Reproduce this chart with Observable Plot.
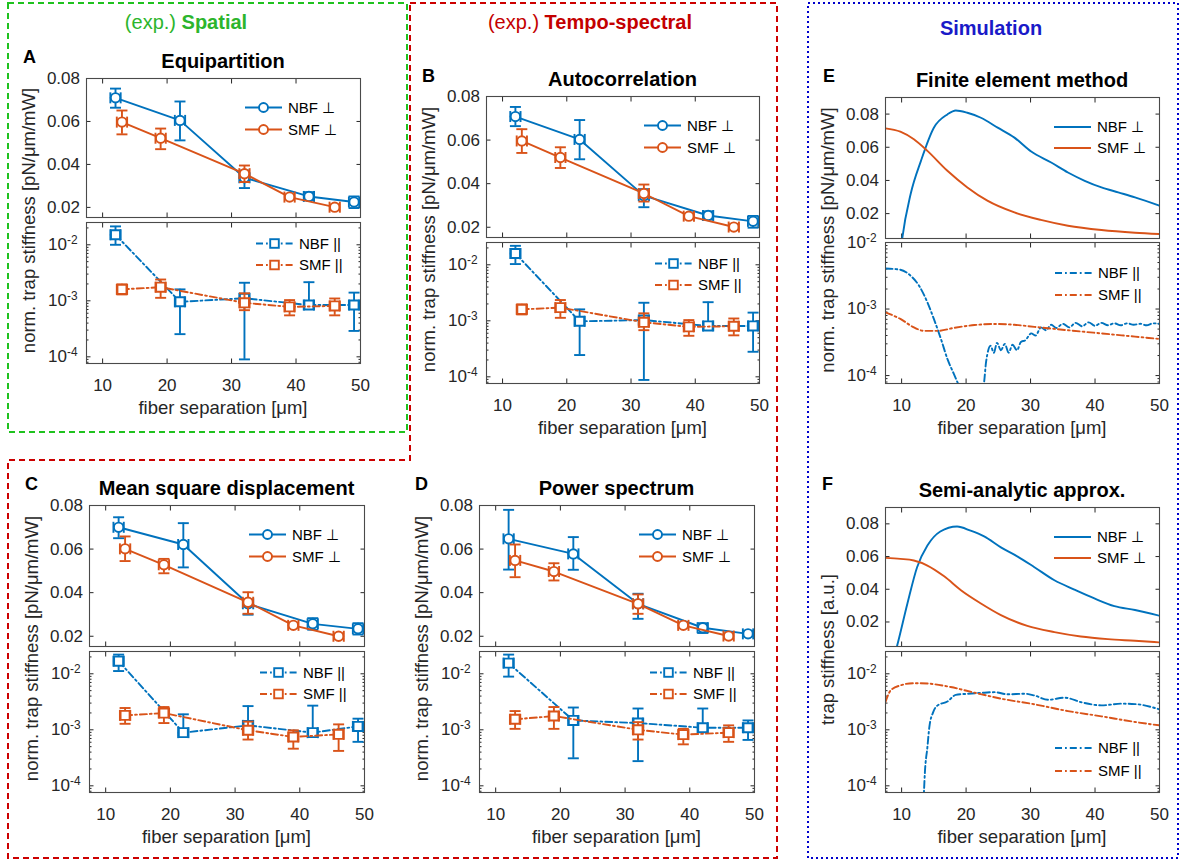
<!DOCTYPE html>
<html><head><meta charset="utf-8">
<script src="https://cdn.jsdelivr.net/npm/d3@7"></script>
<script src="https://cdn.jsdelivr.net/npm/@observablehq/plot@0.6"></script>
<style>
body{margin:0;background:#fff;}
#root{position:relative;width:1184px;height:862px;overflow:hidden;background:#fff;font-family:"Liberation Sans",Arial,Helvetica,sans-serif;}
#overlay{position:absolute;left:0;top:0;pointer-events:none;}
</style></head><body><div id="root"></div>
<script>
// ================= DATA =================
// experimental fiber separations (μm)
const X_NBF = [12, 22, 32, 42, 49];
const X_SMF = [13, 19, 32, 39, 46];
const X_ERR = 0.8;

// A – Equipartition
const A_nbfPerp   = [0.0710, 0.0605, 0.0338, 0.0251, 0.0225];
const A_nbfPerpLo = [0.0664, 0.0512, 0.0290, 0.0233, 0.0197];
const A_nbfPerpHi = [0.0753, 0.0693, 0.0372, 0.0271, 0.0251];
const A_smfPerp   = [0.0597, 0.0522, 0.0357, 0.0248, 0.0201];
const A_smfPerpLo = [0.0540, 0.0471, 0.0318, 0.0239, 0.0189];
const A_smfPerpHi = [0.0651, 0.0567, 0.0395, 0.0258, 0.0213];
const A_nbfPar    = [0.0151, 9.6e-4, 1.11e-3, 8.4e-4, 8.4e-4];
const A_nbfParLo  = [0.0100, 2.54e-4, 9.0e-5, 7.2e-4, 2.9e-4];
const A_nbfParHi  = [0.0213, 1.6e-3, 2.1e-3, 2.15e-3, 1.4e-3];
const A_smfPar    = [1.6e-3, 1.75e-3, 9.2e-4, 7.8e-4, 8.1e-4];
const A_smfParLo  = [1.3e-3, 1.13e-3, 6.8e-4, 5.5e-4, 5.5e-4];
const A_smfParHi  = [1.97e-3, 2.4e-3, 1.36e-3, 1.03e-3, 1.1e-3];

// B – Autocorrelation
const B_nbfPerp   = [0.0708, 0.0603, 0.0345, 0.0254, 0.0227];
const B_nbfPerpLo = [0.0664, 0.0512, 0.0292, 0.0235, 0.0198];
const B_nbfPerpHi = [0.0752, 0.0692, 0.0375, 0.0273, 0.0252];
const B_smfPerp   = [0.0596, 0.0520, 0.0355, 0.0251, 0.0201];
const B_smfPerpLo = [0.0541, 0.0472, 0.0318, 0.0241, 0.0189];
const B_smfPerpHi = [0.0650, 0.0567, 0.0396, 0.0260, 0.0213];
const B_nbfPar    = [0.0159, 9.8e-4, 1.03e-3, 8.1e-4, 8.1e-4];
const B_nbfParLo  = [0.0103, 2.45e-4, 8.8e-5, 7.0e-4, 2.8e-4];
const B_nbfParHi  = [0.0218, 1.6e-3, 2.1e-3, 2.15e-3, 1.4e-3];
const B_smfPar    = [1.6e-3, 1.72e-3, 9.4e-4, 7.8e-4, 8.0e-4];
const B_smfParLo  = [1.3e-3, 1.13e-3, 6.8e-4, 5.4e-4, 5.5e-4];
const B_smfParHi  = [1.97e-3, 2.35e-3, 1.36e-3, 1.03e-3, 1.1e-3];

// C – Mean square displacement
const C_nbfPerp   = [0.0700, 0.0621, 0.0349, 0.0257, 0.0234];
const C_nbfPerpLo = [0.0650, 0.0516, 0.0299, 0.0230, 0.0208];
const C_nbfPerpHi = [0.0746, 0.0719, 0.0364, 0.0283, 0.0260];
const C_smfPerp   = [0.0601, 0.0528, 0.0356, 0.0250, 0.0200];
const C_smfPerpLo = [0.0545, 0.0489, 0.0303, 0.0240, 0.0188];
const C_smfPerpHi = [0.0658, 0.0555, 0.0402, 0.0260, 0.0212];
const C_nbfPar    = [0.0168, 8.9e-4, 1.2e-3, 8.9e-4, 1.15e-3];
const C_nbfParLo  = [0.0112, 8.0e-4, 1.0e-3, 8.0e-4, 6.1e-4];
const C_nbfParHi  = [0.0220, 1.89e-3, 2.65e-3, 2.7e-3, 1.58e-3];
const C_smfPar    = [1.81e-3, 1.99e-3, 9.8e-4, 7.45e-4, 8.3e-4];
const C_smfParLo  = [1.28e-3, 1.32e-3, 6.7e-4, 4.6e-4, 4.2e-4];
const C_smfParHi  = [2.45e-3, 2.55e-3, 1.4e-3, 9.8e-4, 1.25e-3];

// D – Power spectrum
const D_nbfPerp   = [0.0647, 0.0578, 0.0349, 0.0239, 0.0211];
const D_nbfPerpLo = [0.0506, 0.0505, 0.0280, 0.0215, 0.0200];
const D_nbfPerpHi = [0.0780, 0.0655, 0.0395, 0.0260, 0.0224];
const D_smfPerp   = [0.0548, 0.0497, 0.0349, 0.0250, 0.0201];
const D_smfPerpLo = [0.0471, 0.0456, 0.0303, 0.0240, 0.0189];
const D_smfPerpHi = [0.0621, 0.0535, 0.0392, 0.0260, 0.0213];
const D_nbfPar    = [0.0155, 1.47e-3, 1.32e-3, 1.09e-3, 1.09e-3];
const D_nbfParLo  = [0.0089, 3.1e-4, 2.76e-4, 1.0e-3, 6.6e-4];
const D_nbfParHi  = [0.0220, 2.5e-3, 2.4e-3, 2.4e-3, 1.47e-3];
const D_smfPar    = [1.54e-3, 1.76e-3, 1.0e-3, 8.2e-4, 8.9e-4];
const D_smfParLo  = [1.04e-3, 1.04e-3, 6.7e-4, 5.5e-4, 6.1e-4];
const D_smfParHi  = [2.16e-3, 2.55e-3, 1.37e-3, 1.04e-3, 1.2e-3];

// E – Finite element method
const E_nbfPerpX = [10.0, 10.1, 11.4, 13.0, 15.0, 17.1, 18.4, 20.2, 22.3, 24.9, 27.5, 30.1, 33.2, 35.8, 38.4, 41.0, 43.6, 46.2, 50];
const E_nbfPerpY = [0.002, 0.0051, 0.0318, 0.0518, 0.0718, 0.0798, 0.0822, 0.0808, 0.0778, 0.0718, 0.0658, 0.0574, 0.0508, 0.0448, 0.0398, 0.0358, 0.0328, 0.0298, 0.0248];
const E_smfPerpX = [7.5, 9.8, 11.9, 14.0, 17.1, 20.2, 23.3, 27.5, 31.6, 35.8, 41.0, 46.2, 50];
const E_smfPerpY = [0.0714, 0.0694, 0.0648, 0.0578, 0.0458, 0.0358, 0.0278, 0.0207, 0.0162, 0.0127, 0.0101, 0.0085, 0.0077];
const E_nbfParX = [7.5, 9.8, 11.4, 12.7, 14.0, 15.0, 16.1, 17.1, 18.1, 18.9, 19.5, 22.5, 22.8, 23.1, 23.8, 24.3, 24.8, 25.4, 26.0, 26.6, 27.2, 27.9, 28.5, 29.2, 30.1, 30.8, 31.6, 32.4, 33.2, 34.0, 35.0, 36.0, 37.0, 38.0, 39.0, 40.0, 41.0, 42.0, 43.0, 44.0, 45.0, 46.0, 47.0, 48.0, 49.0, 50.0];
const E_nbfParY = [4.07e-3, 3.9e-3, 3.16e-3, 2.24e-3, 1.26e-3, 7.1e-4, 3.55e-4, 1.78e-4, 1.06e-4, 7e-5, 5e-5, 5e-5, 8e-5, 1.6e-4, 2.8e-4, 2.2e-4, 3.1e-4, 2.4e-4, 3.0e-4, 2.2e-4, 2.9e-4, 2.4e-4, 3.2e-4, 3.4e-4, 4.3e-4, 4.0e-4, 5.3e-4, 4.8e-4, 5.8e-4, 5.2e-4, 6.0e-4, 5.3e-4, 6.2e-4, 5.5e-4, 6.3e-4, 5.6e-4, 6.2e-4, 5.7e-4, 6.1e-4, 5.7e-4, 6.1e-4, 5.8e-4, 6.0e-4, 5.7e-4, 6.1e-4, 6.0e-4];
const E_smfParX = [7.5, 9.8, 11.9, 13.5, 15.6, 18.1, 21.3, 24.4, 27.5, 30.6, 35.8, 41.0, 46.2, 50];
const E_smfParY = [8.9e-4, 7.1e-4, 5.3e-4, 4.7e-4, 4.7e-4, 5.2e-4, 5.75e-4, 5.96e-4, 5.8e-4, 5.4e-4, 4.8e-4, 4.3e-4, 3.85e-4, 3.55e-4];

// F – Semi-analytic approximation
const F_nbfPerpX = [9.0, 9.3, 10.9, 12.4, 14.0, 16.0, 18.6, 20.7, 22.8, 25.4, 28.0, 30.6, 33.7, 36.8, 39.9, 43.0, 46.2, 50];
const F_nbfPerpY = [0.001, 0.0054, 0.0313, 0.0535, 0.0667, 0.0753, 0.0784, 0.0758, 0.0723, 0.0656, 0.0600, 0.0535, 0.0455, 0.0398, 0.0344, 0.0297, 0.0273, 0.0238];
const F_smfPerpX = [7.5, 9.8, 11.9, 14.0, 16.6, 19.2, 22.3, 25.4, 29.5, 33.7, 37.8, 42.0, 46.2, 50];
const F_smfPerpY = [0.0592, 0.0586, 0.0576, 0.0545, 0.0479, 0.0394, 0.0313, 0.0242, 0.0176, 0.0138, 0.0111, 0.0095, 0.0085, 0.0075];
const F_nbfParX = [13.4, 13.6, 14.0, 14.3, 14.9, 15.6, 17.1, 18.4, 20.2, 22.8, 24.4, 26.5, 29.1, 30.6, 32.7, 35.3, 37.9, 41.0, 44.1, 46.2, 50];
const F_nbfParY = [5e-5, 1.66e-4, 4.9e-4, 1.12e-3, 2.07e-3, 2.73e-3, 3.2e-3, 4.2e-3, 4.4e-3, 4.6e-3, 4.7e-3, 4.3e-3, 4.4e-3, 4.1e-3, 3.44e-3, 3.74e-3, 3.1e-3, 2.73e-3, 2.93e-3, 2.88e-3, 2.32e-3];
const F_smfParX = [7.5, 8.3, 9.8, 11.9, 14.0, 17.6, 21.3, 25.4, 30.6, 35.8, 41.0, 46.2, 50];
const F_smfParY = [3.13e-3, 5.05e-3, 6.2e-3, 6.8e-3, 6.7e-3, 5.8e-3, 4.6e-3, 3.6e-3, 2.85e-3, 2.16e-3, 1.74e-3, 1.38e-3, 1.2e-3];

// axes
const X_DOMAIN = [7.5, 50];
const X_TICKS = [10, 20, 30, 40, 50];
const LIN_TICKS = [0.02, 0.04, 0.06, 0.08];
const LOG_TICKS = [1e-4, 1e-3, 1e-2];
const LOG_MINOR = [1e-5, 1e-4, 1e-3, 1e-2].flatMap(d => [2,3,4,5,6,7,8,9].map(k => k * d));

// ================= STYLE / LAYOUT =================
const BLUE = "#0072BD", ORANGE = "#D95319", INK = "#262626";
const FONT = '"Liberation Sans", Arial, Helvetica, sans-serif';
const DASHDOT = "7,3,1.8,3";
const LW = 1.9;
const FR = {
  A: {x0: 86, x1: 360, top: [78, 217], bot: [222, 363]},
  B: {x0: 486, x1: 759, top: [96, 237], bot: [242, 383]},
  C: {x0: 89, x1: 364, top: [505, 646], bot: [651, 792]},
  D: {x0: 479, x1: 754, top: [505, 646], bot: [651, 792]},
  E: {x0: 885, x1: 1159, top: [97, 238], bot: [242, 383]},
  F: {x0: 885, x1: 1159, top: [507, 646], bot: [651, 792]}
};

const root = document.getElementById("root");
const NS = "http://www.w3.org/2000/svg";

const hcap = {draw(ctx, size) { const r = Math.sqrt(size / Math.PI); ctx.moveTo(-r, 0); ctx.lineTo(r, 0); }};
const vcap = {draw(ctx, size) { const r = Math.sqrt(size / Math.PI); ctx.moveTo(0, -r); ctx.lineTo(0, r); }};

function expRows(xs, ys, lo, hi) {
  return xs.map((x, i) => ({x, y: ys[i], lo: lo[i], hi: hi[i], xlo: x - X_ERR, xhi: x + X_ERR}));
}
function pts(xs, ys) { return xs.map((x, i) => ({x, y: ys[i]})); }

function expMarks(data, color, symbol, dash) {
  const s = {stroke: color, strokeWidth: LW};
  return [
    Plot.line(data, {x: "x", y: "y", ...s, strokeDasharray: dash}),
    Plot.ruleX(data, {x: "x", y1: "lo", y2: "hi", ...s}),
    Plot.ruleY(data, {y: "y", x1: "xlo", x2: "xhi", ...s}),
    Plot.dot(data, {x: "x", y: "lo", symbol: hcap, r: 5.5, fill: "none", ...s}),
    Plot.dot(data, {x: "x", y: "hi", symbol: hcap, r: 5.5, fill: "none", ...s}),
    Plot.dot(data, {x: "xlo", y: "y", symbol: vcap, r: 5.5, fill: "none", ...s}),
    Plot.dot(data, {x: "xhi", y: "y", symbol: vcap, r: 5.5, fill: "none", ...s}),
    Plot.dot(data, {x: "x", y: "y", symbol, r: symbol === "square" ? 5.1 : 4.7, fill: "white", ...s})
  ];
}
function simMarks(data, color, dash) {
  return [Plot.line(data, {x: "x", y: "y", stroke: color, strokeWidth: LW, strokeDasharray: dash, curve: "monotone-x", clip: true})];
}

function fixSup(svg) {
  svg.querySelectorAll("text").forEach(t => {
    const m = (t.textContent || "").match(/^10\^(.+)$/);
    if (!m) return;
    t.textContent = "";
    const a = document.createElementNS(NS, "tspan"); a.textContent = "10";
    const b = document.createElementNS(NS, "tspan"); b.textContent = m[1];
    b.setAttribute("dy", "-0.5em"); b.setAttribute("font-size", "0.7em");
    t.append(a, b);
  });
}

function subplot(fr, which, type, domain, marks) {
  const [ya, yb] = fr[which];
  const w = fr.x1 - fr.x0, h = yb - ya;
  const ML = 64, MR = 8, MT = 8, MB = which === "bot" ? 44 : 8;
  const isLog = type === "log";
  const inDom = d => d >= domain[0] && d <= domain[1];
  const TK = 4.5;
  const m = [];
  m.push(Plot.axisX({anchor: "bottom", ticks: X_TICKS, tickSize: -TK, tickPadding: which === "bot" ? 19.5 : 0,
    tickFormat: which === "bot" ? (d => String(d)) : (() => ""), label: null}));
  m.push(Plot.axisX({anchor: "top", ticks: X_TICKS, tickSize: -TK, tickFormat: () => "", label: null}));
  if (isLog) {
    const minor = LOG_MINOR.filter(inDom);
    m.push(Plot.axisY({anchor: "left", ticks: minor, tickSize: -2.5, tickFormat: () => "", label: null}));
    m.push(Plot.axisY({anchor: "right", ticks: minor, tickSize: -2.5, tickFormat: () => "", label: null}));
  }
  const major = (isLog ? LOG_TICKS : LIN_TICKS).filter(inDom);
  m.push(Plot.axisY({anchor: "left", ticks: major, tickSize: -TK, tickPadding: isLog ? 13.5 : 11,
    tickFormat: isLog ? (d => "10^" + Math.round(Math.log10(d))) : d3.format(".2f"), label: null}));
  m.push(Plot.axisY({anchor: "right", ticks: major, tickSize: -TK, tickFormat: () => "", label: null}));
  m.push(...marks);
  m.push(Plot.frame({stroke: "#4a4a4a", strokeWidth: 1.1}));
  const svg = Plot.plot({
    width: w + ML + MR, height: h + MT + MB,
    marginLeft: ML, marginRight: MR, marginTop: MT, marginBottom: MB,
    x: {domain: X_DOMAIN}, y: {type, domain},
    style: {fontFamily: FONT, fontSize: "17px", color: INK, background: "transparent", overflow: "visible", maxWidth: "none"},
    marks: m
  });
  fixSup(svg);
  svg.style.position = "absolute";
  svg.style.left = (fr.x0 - ML) + "px";
  svg.style.top = (ya - MT) + "px";
  root.appendChild(svg);
}

const LIN_DOM = [0.0153, 0.08];
const LOG_DOM = [7.6e-5, 0.025];
const SIM_LIN = [0.005, 0.09];

function expPanel(fr, np, npl, nph, sp, spl, sph, nq, nql, nqh, sq, sql, sqh) {
  subplot(fr, "top", "linear", LIN_DOM, [
    ...expMarks(expRows(X_NBF, np, npl, nph), BLUE, "circle", null),
    ...expMarks(expRows(X_SMF, sp, spl, sph), ORANGE, "circle", null)
  ]);
  subplot(fr, "bot", "log", LOG_DOM, [
    ...expMarks(expRows(X_NBF, nq, nql, nqh), BLUE, "square", DASHDOT),
    ...expMarks(expRows(X_SMF, sq, sql, sqh), ORANGE, "square", DASHDOT)
  ]);
}
expPanel(FR.A, A_nbfPerp, A_nbfPerpLo, A_nbfPerpHi, A_smfPerp, A_smfPerpLo, A_smfPerpHi, A_nbfPar, A_nbfParLo, A_nbfParHi, A_smfPar, A_smfParLo, A_smfParHi);
expPanel(FR.B, B_nbfPerp, B_nbfPerpLo, B_nbfPerpHi, B_smfPerp, B_smfPerpLo, B_smfPerpHi, B_nbfPar, B_nbfParLo, B_nbfParHi, B_smfPar, B_smfParLo, B_smfParHi);
expPanel(FR.C, C_nbfPerp, C_nbfPerpLo, C_nbfPerpHi, C_smfPerp, C_smfPerpLo, C_smfPerpHi, C_nbfPar, C_nbfParLo, C_nbfParHi, C_smfPar, C_smfParLo, C_smfParHi);
expPanel(FR.D, D_nbfPerp, D_nbfPerpLo, D_nbfPerpHi, D_smfPerp, D_smfPerpLo, D_smfPerpHi, D_nbfPar, D_nbfParLo, D_nbfParHi, D_smfPar, D_smfParLo, D_smfParHi);

subplot(FR.E, "top", "linear", SIM_LIN, [
  ...simMarks(pts(E_nbfPerpX, E_nbfPerpY), BLUE, null),
  ...simMarks(pts(E_smfPerpX, E_smfPerpY), ORANGE, null)
]);
subplot(FR.E, "bot", "log", [7.6e-5, 0.01], [
  ...simMarks(pts(E_nbfParX, E_nbfParY), BLUE, DASHDOT),
  ...simMarks(pts(E_smfParX, E_smfParY), ORANGE, DASHDOT)
]);
subplot(FR.F, "top", "linear", SIM_LIN, [
  ...simMarks(pts(F_nbfPerpX, F_nbfPerpY), BLUE, null),
  ...simMarks(pts(F_smfPerpX, F_smfPerpY), ORANGE, null)
]);
subplot(FR.F, "bot", "log", LOG_DOM, [
  ...simMarks(pts(F_nbfParX, F_nbfParY), BLUE, DASHDOT),
  ...simMarks(pts(F_smfParX, F_smfParY), ORANGE, DASHDOT)
]);

// ================= OVERLAY: boxes, headers, titles, labels, legends =================
const ov = d3.select(root).append("svg").attr("id", "overlay").attr("width", 1184).attr("height", 862)
  .attr("font-family", FONT);

const GREEN = "#1fc21f", RED = "#cc0000", DBLUE = "#0000cc";
ov.append("rect").attr("x", 8).attr("y", 3).attr("width", 399).attr("height", 429)
  .attr("fill", "none").attr("stroke", GREEN).attr("stroke-width", 2).attr("stroke-dasharray", "6,4");
ov.append("path").attr("d", "M410,3 H777 V858 H8 V460 H410 Z")
  .attr("fill", "none").attr("stroke", RED).attr("stroke-width", 2).attr("stroke-dasharray", "6,4");
ov.append("rect").attr("x", 808).attr("y", 3).attr("width", 370).attr("height", 855)
  .attr("fill", "none").attr("stroke", DBLUE).attr("stroke-width", 2).attr("stroke-dasharray", "2,3");

function header(x, y, pre, bold, color) {
  const t = ov.append("text").attr("x", x).attr("y", y).attr("text-anchor", "middle").attr("font-size", 20).attr("fill", color);
  if (pre) t.append("tspan").text(pre);
  t.append("tspan").attr("font-weight", "bold").text(bold);
}
header(186, 29, "(exp.) ", "Spatial", "#2cb52c");
header(590, 29, "(exp.) ", "Tempo-spectral", "#c40000");
header(991, 35, null, "Simulation", "#1a1ac8");

const TITLES = {A: "Equipartition", B: "Autocorrelation", C: "Mean square displacement", D: "Power spectrum", E: "Finite element method", F: "Semi-analytic approx."};
const LETTER_POS = {A: [23, 63], B: [422, 82], C: [25, 490], D: [415, 490], E: [823, 82], F: [822, 490]};
const YLABELS = {A: "norm. trap stiffness [pN/μm/mW]", B: "norm. trap stiffness [pN/μm/mW]", C: "norm. trap stiffness [pN/μm/mW]", D: "norm. trap stiffness [pN/μm/mW]", E: "norm. trap stiffness [pN/μm/mW]", F: "trap stiffness [a.u.]"};
const XLABEL = "fiber separation [μm]";

for (const k of Object.keys(FR)) {
  const fr = FR[k];
  const cx = (fr.x0 + fr.x1) / 2;
  ov.append("text").attr("x", cx).attr("y", fr.top[0] - 10.5).attr("text-anchor", "middle")
    .attr("font-size", 20).attr("font-weight", "bold").attr("fill", "#000").text(TITLES[k]);
  ov.append("text").attr("x", LETTER_POS[k][0]).attr("y", LETTER_POS[k][1])
    .attr("font-size", 18).attr("font-weight", "bold").attr("fill", "#000").text(k);
  const cy = (fr.top[0] + fr.bot[1]) / 2;
  const lx = fr.x0 - 57;
  ov.append("text").attr("transform", `translate(${lx},${cy}) rotate(-90)`).attr("text-anchor", "middle")
    .attr("dy", "0.35em").attr("font-size", 18.5).attr("fill", INK).text(YLABELS[k]);
  ov.append("text").attr("x", cx).attr("y", fr.bot[1] + 45).attr("dy", "0.35em").attr("text-anchor", "middle")
    .attr("font-size", 18.5).attr("fill", INK).text(XLABEL);
}

function legend(fr, yRows, lineL, lineR, textDx, items) {
  items.forEach((it, i) => {
    const y = yRows[i];
    const g = ov.append("g");
    g.append("line").attr("x1", fr.x1 - lineL).attr("x2", fr.x1 - lineR).attr("y1", y).attr("y2", y)
      .attr("stroke", it.color).attr("stroke-width", LW).attr("stroke-dasharray", it.dash || null);
    const mx = fr.x1 - (lineL + lineR) / 2;
    if (it.marker === "circle") g.append("circle").attr("cx", mx).attr("cy", y).attr("r", 4.5)
      .attr("fill", "white").attr("stroke", it.color).attr("stroke-width", LW);
    if (it.marker === "square") g.append("rect").attr("x", mx - 4.3).attr("y", y - 4.3).attr("width", 8.6).attr("height", 8.6)
      .attr("fill", "white").attr("stroke", it.color).attr("stroke-width", LW);
    g.append("text").attr("x", fr.x1 - textDx).attr("y", y).attr("dy", "0.35em").attr("font-size", 15)
      .attr("fill", "#000").text(it.label);
  });
}
const perpExp = [{label: "NBF ⊥", color: BLUE, marker: "circle"}, {label: "SMF ⊥", color: ORANGE, marker: "circle"}];
const parExp = [{label: "NBF ||", color: BLUE, marker: "square", dash: DASHDOT}, {label: "SMF ||", color: ORANGE, marker: "square", dash: DASHDOT}];
const perpSim = [{label: "NBF ⊥", color: BLUE}, {label: "SMF ⊥", color: ORANGE}];
const parSim = [{label: "NBF ||", color: BLUE, dash: DASHDOT}, {label: "SMF ||", color: ORANGE, dash: DASHDOT}];
for (const k of ["A", "B", "C", "D"]) {
  const fr = FR[k];
  legend(fr, [fr.top[0] + 29.5, fr.top[0] + 51.5], 115, 78, 72, perpExp);
  legend(fr, [fr.bot[0] + 21.5, fr.bot[0] + 43], 104, 67, 61, parExp);
}
legend(FR.E, [FR.E.top[0] + 30, FR.E.top[0] + 51], 105, 68, 62, perpSim);
legend(FR.E, [FR.E.bot[0] + 31, FR.E.bot[0] + 53], 104, 66, 61, parSim);
legend(FR.F, [FR.F.top[0] + 30, FR.F.top[0] + 51], 105, 68, 62, perpSim);
legend(FR.F, [FR.F.bot[1] - 44, FR.F.bot[1] - 21], 104, 66, 61, parSim);
</script></body></html>
